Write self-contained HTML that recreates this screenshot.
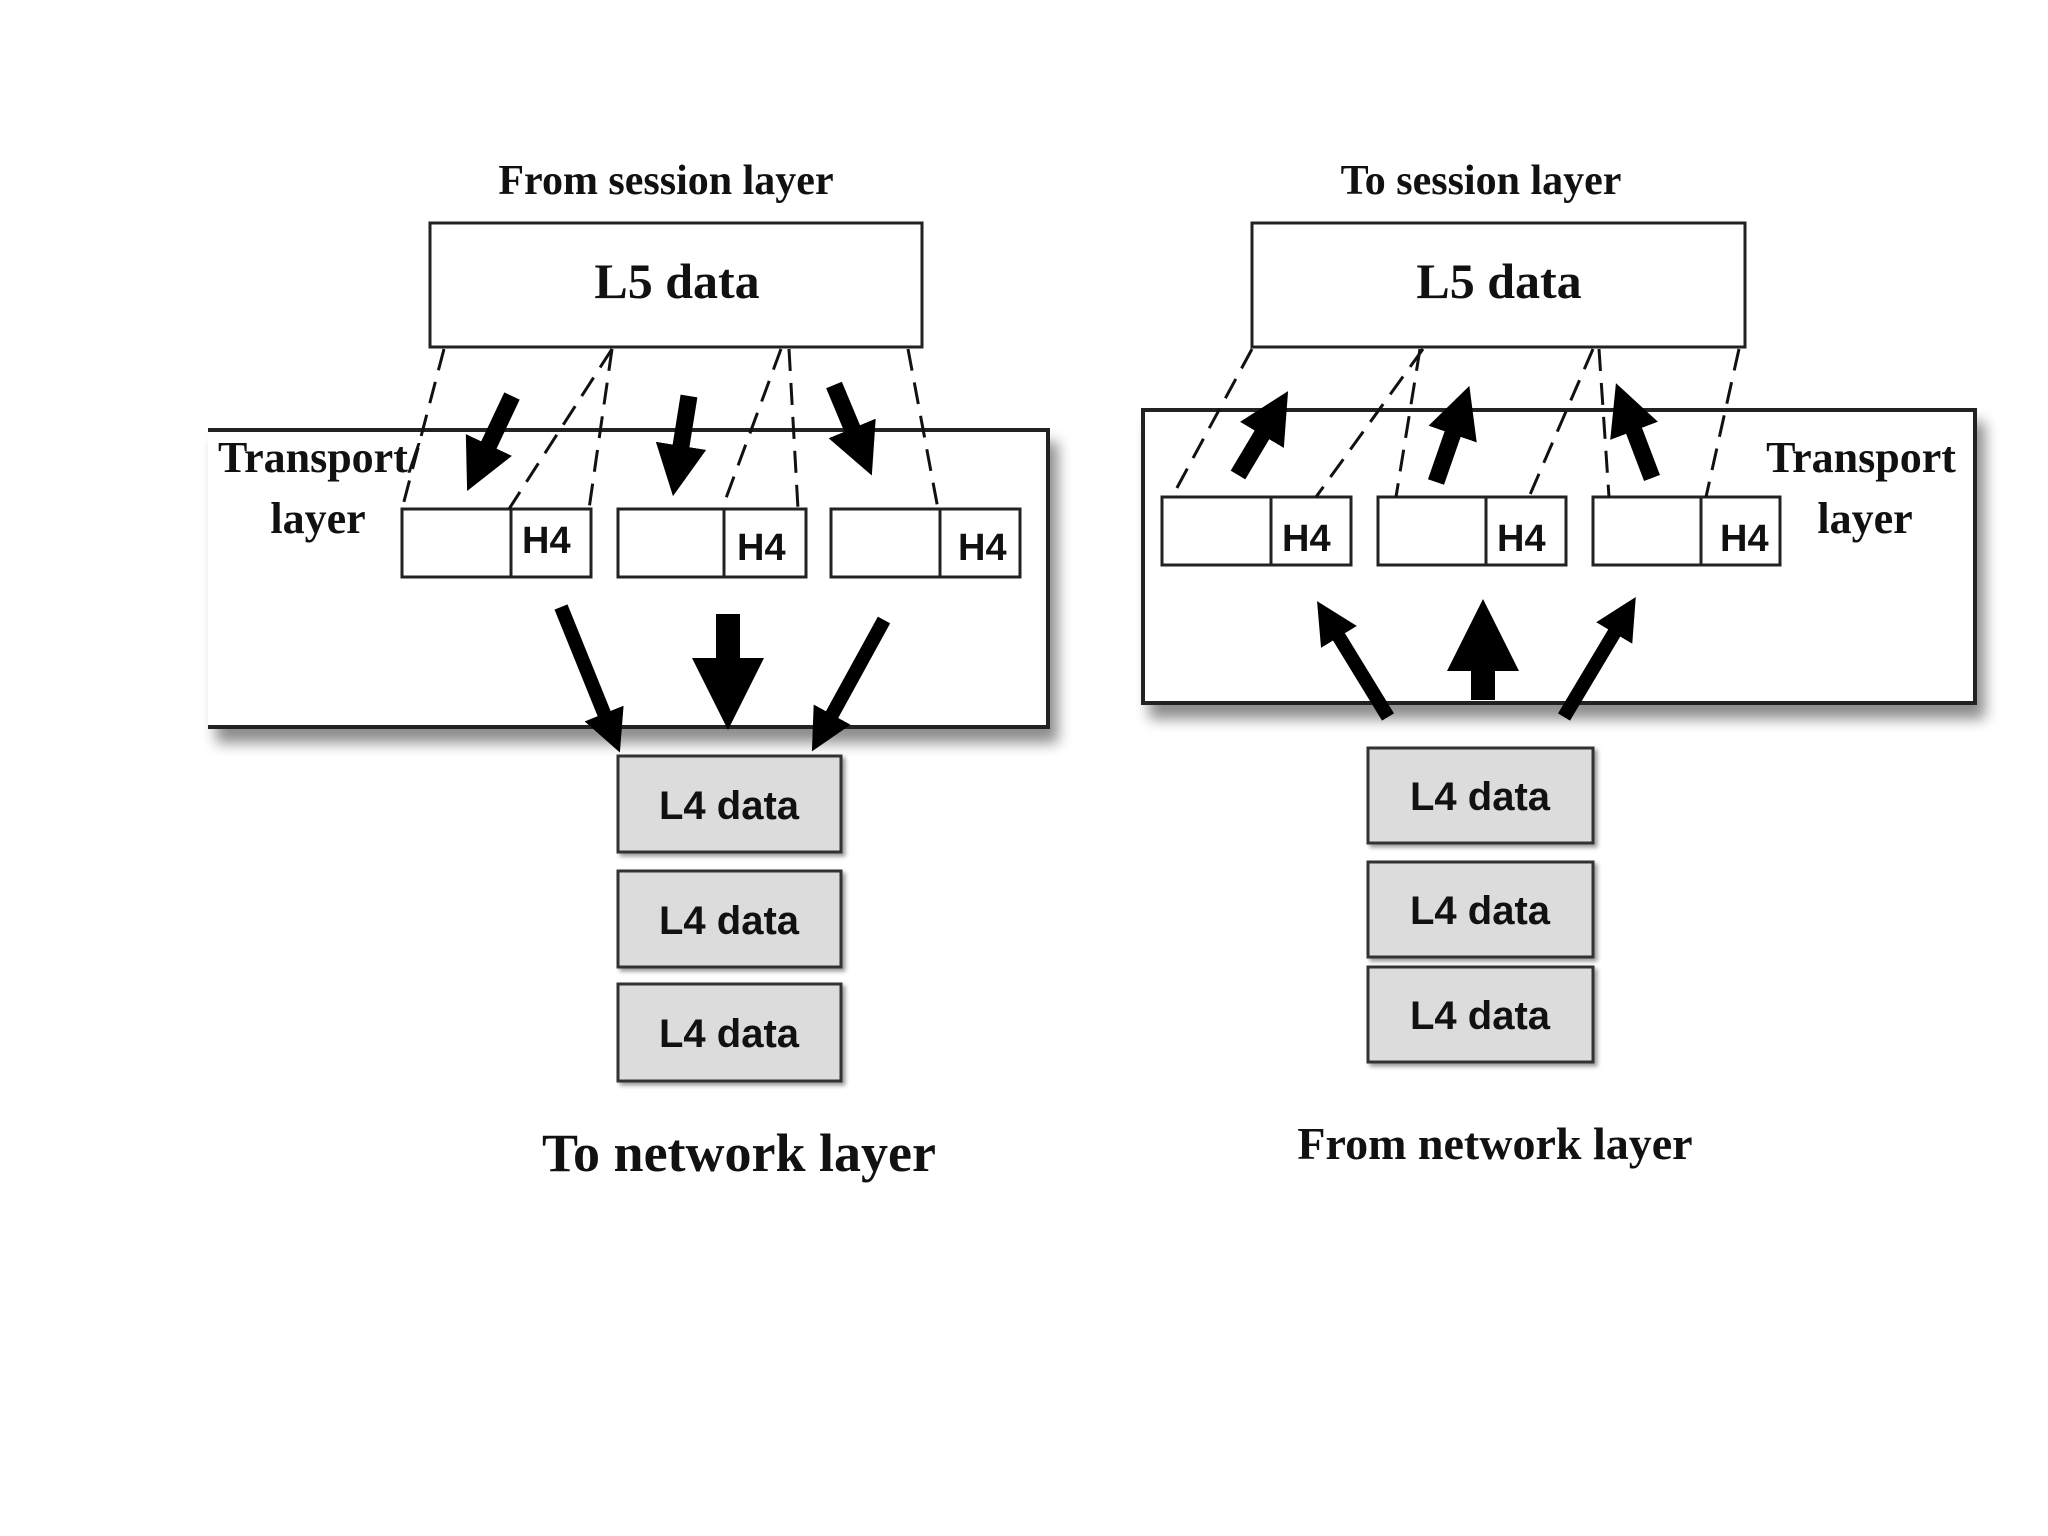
<!DOCTYPE html>
<html><head><meta charset="utf-8"><style>
html,body{margin:0;padding:0;background:#fff;}
svg{display:block}
.serif{font-family:"Liberation Serif",serif;font-weight:bold;fill:#111}
.sans{font-family:"Liberation Sans",sans-serif;font-weight:bold;fill:#111}
</style></head><body>
<svg width="2048" height="1536" viewBox="0 0 2048 1536" xmlns="http://www.w3.org/2000/svg">
<defs>
<filter id="sh" x="-5%" y="-5%" width="115%" height="125%">
<feGaussianBlur in="SourceAlpha" stdDeviation="7"/>
<feOffset dx="8" dy="14" result="b"/>
<feComponentTransfer><feFuncA type="linear" slope="0.45"/></feComponentTransfer>
<feMerge><feMergeNode/><feMergeNode in="SourceGraphic"/></feMerge>
</filter>
<filter id="sh2" x="-10%" y="-10%" width="125%" height="130%">
<feGaussianBlur in="SourceAlpha" stdDeviation="2"/>
<feOffset dx="3" dy="3"/>
<feComponentTransfer><feFuncA type="linear" slope="0.4"/></feComponentTransfer>
<feMerge><feMergeNode/><feMergeNode in="SourceGraphic"/></feMerge>
</filter>
<marker id="ah" viewBox="0 0 10 10" refX="5" refY="5" markerWidth="3" markerHeight="3" orient="auto" markerUnits="strokeWidth">
<path d="M0,0 L10,5 L0,10 z" fill="#000"/>
</marker>
</defs>

<!-- LEFT PANEL -->
<text x="666" y="194" text-anchor="middle" class="serif" font-size="42">From session layer</text>
<rect x="430" y="223" width="492" height="124" fill="#fff" stroke="#222" stroke-width="3"/>
<text x="677" y="298" text-anchor="middle" class="serif" font-size="50">L5 data</text>

<g filter="url(#sh)">
<path d="M208,430 L1048,430 L1048,727 L208,727" fill="#fff" stroke="#222" stroke-width="4"/>
</g>
<text x="218" y="472" class="serif" font-size="44">Transport/</text>
<text x="318" y="533" text-anchor="middle" class="serif" font-size="44">layer</text>

<g fill="#fff" stroke="#222" stroke-width="3">
<rect x="402" y="509" width="189" height="68"/><line x1="511" y1="509" x2="511" y2="577"/>
<rect x="618" y="509" width="188" height="68"/><line x1="724" y1="509" x2="724" y2="577"/>
<rect x="831" y="509" width="189" height="68"/><line x1="940" y1="509" x2="940" y2="577"/>
</g>
<g class="sans" font-size="38">
<text x="522" y="553">H4</text>
<text x="737" y="560">H4</text>
<text x="958" y="560">H4</text>
</g>

<g stroke="#111" stroke-width="3" stroke-dasharray="22,12" fill="none">
<line x1="444" y1="349" x2="402" y2="509"/>
<line x1="612" y1="349" x2="509" y2="509"/>
<line x1="612" y1="349" x2="589" y2="509"/>
<line x1="781" y1="349" x2="722" y2="509"/>
<line x1="789" y1="349" x2="798" y2="509"/>
<line x1="908" y1="349" x2="938" y2="509"/>
</g>

<g stroke="#000" fill="none">
<line x1="512" y1="396" x2="478" y2="468" stroke-width="17" marker-end="url(#ah)"/>
<line x1="689" y1="396" x2="677" y2="471" stroke-width="17" marker-end="url(#ah)"/>
<line x1="834" y1="385" x2="862" y2="452" stroke-width="17" marker-end="url(#ah)"/>
<line x1="561" y1="607" x2="612" y2="733" stroke-width="14" marker-end="url(#ah)"/>
<line x1="728" y1="614" x2="728" y2="694" stroke-width="24" marker-end="url(#ah)"/>
<line x1="884" y1="620" x2="822" y2="733" stroke-width="14" marker-end="url(#ah)"/>
</g>

<g filter="url(#sh2)" fill="#dcdcdc" stroke="#333" stroke-width="3">
<rect x="618" y="756" width="223" height="96"/>
<rect x="618" y="871" width="223" height="96"/>
<rect x="618" y="984" width="223" height="97"/>
</g>
<g class="sans" font-size="40" text-anchor="middle">
<text x="729" y="819">L4 data</text>
<text x="729" y="934">L4 data</text>
<text x="729" y="1047">L4 data</text>
</g>
<text x="739" y="1171" text-anchor="middle" class="serif" font-size="54">To network layer</text>

<!-- RIGHT PANEL -->
<text x="1481" y="194" text-anchor="middle" class="serif" font-size="42">To session layer</text>
<rect x="1252" y="223" width="493" height="124" fill="#fff" stroke="#222" stroke-width="3"/>
<text x="1499" y="298" text-anchor="middle" class="serif" font-size="50">L5 data</text>

<g filter="url(#sh)">
<rect x="1143" y="410" width="832" height="293" fill="#fff" stroke="#222" stroke-width="4"/>
</g>
<text x="1861" y="472" text-anchor="middle" class="serif" font-size="44">Transport</text>
<text x="1865" y="533" text-anchor="middle" class="serif" font-size="44">layer</text>

<g fill="#fff" stroke="#222" stroke-width="3">
<rect x="1162" y="497" width="189" height="68"/><line x1="1271" y1="497" x2="1271" y2="565"/>
<rect x="1378" y="497" width="188" height="68"/><line x1="1486" y1="497" x2="1486" y2="565"/>
<rect x="1593" y="497" width="187" height="68"/><line x1="1701" y1="497" x2="1701" y2="565"/>
</g>
<g class="sans" font-size="38">
<text x="1282" y="551">H4</text>
<text x="1497" y="551">H4</text>
<text x="1720" y="551">H4</text>
</g>

<g stroke="#111" stroke-width="3" stroke-dasharray="22,12" fill="none">
<line x1="1252" y1="349" x2="1172" y2="497"/>
<line x1="1423" y1="349" x2="1316" y2="497"/>
<line x1="1420" y1="349" x2="1396" y2="497"/>
<line x1="1593" y1="349" x2="1529" y2="497"/>
<line x1="1599" y1="349" x2="1609" y2="497"/>
<line x1="1739" y1="349" x2="1706" y2="497"/>
</g>

<g stroke="#000" fill="none">
<line x1="1238" y1="475" x2="1275" y2="413" stroke-width="17" marker-end="url(#ah)"/>
<line x1="1436" y1="482" x2="1461" y2="410" stroke-width="17" marker-end="url(#ah)"/>
<line x1="1652" y1="478" x2="1625" y2="407" stroke-width="17" marker-end="url(#ah)"/>
<line x1="1388" y1="717" x2="1328" y2="619" stroke-width="14" marker-end="url(#ah)"/>
<line x1="1483" y1="700" x2="1483" y2="635" stroke-width="24" marker-end="url(#ah)"/>
<line x1="1564" y1="717" x2="1625" y2="615" stroke-width="14" marker-end="url(#ah)"/>
</g>

<g filter="url(#sh2)" fill="#dcdcdc" stroke="#333" stroke-width="3">
<rect x="1368" y="748" width="225" height="95"/>
<rect x="1368" y="862" width="225" height="95"/>
<rect x="1368" y="967" width="225" height="95"/>
</g>
<g class="sans" font-size="40" text-anchor="middle">
<text x="1480" y="810">L4 data</text>
<text x="1480" y="924">L4 data</text>
<text x="1480" y="1029">L4 data</text>
</g>
<text x="1495" y="1159" text-anchor="middle" class="serif" font-size="46">From network layer</text>
</svg>
</body></html>
